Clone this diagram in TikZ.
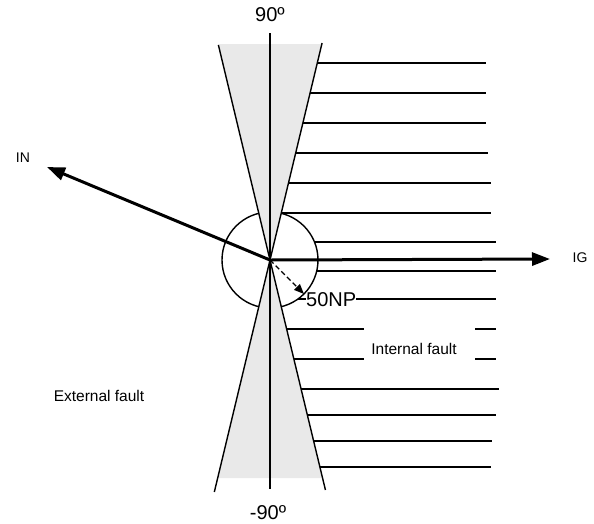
\documentclass[tikz,border=0pt]{standalone}
\usepackage{fontspec}
\setmainfont{Liberation Sans}
\usetikzlibrary{arrows.meta}
\definecolor{conegray}{HTML}{E9E9E9}
\begin{document}
\begin{tikzpicture}[x=1pt,y=-1pt,
  thinline/.style={line width=1.4pt},
  bigarrow/.style={line width=3pt,-{Triangle[length=18pt,width=13pt]}},
  dasharrow/.style={line width=1.4pt,dash pattern=on 5pt off 3pt,-{Triangle[length=10pt,width=8pt]}},
  lbl/.style={inner sep=0pt,font=\fontsize{14}{16}\selectfont},
  anglbl/.style={inner sep=0pt,font=\fontsize{20}{22}\selectfont}]
\useasboundingbox (0,0) rectangle (594,523);
\coordinate (O) at (270,260);
% circle
\draw[thinline] (O) circle[radius=48pt];
% hatch lines upper (start on cone edge)
\foreach \yy/\xe in {63/486,93/486,123/486,153/488,183/491,213/491}
  \draw[thinline] ({270+0.24*(260-\yy)},\yy) -- (\xe,\yy);
% hatch lines crossing the circle
\foreach \yy in {242,271}
  \draw[thinline] ({270+sqrt(48*48-(\yy-260)*(\yy-260))},\yy) -- (496,\yy);
% hatch lines lower
\foreach \yy/\xe in {389/499,415/496,441/492,467/491}
  \draw[thinline] ({270+0.24*(\yy-260)},\yy) -- (\xe,\yy);
\foreach \yy in {329,359}{
  \draw[thinline] ({270+0.24*(\yy-260)},\yy) -- (364,\yy);
  \draw[thinline] (475,\yy) -- (496,\yy);
}
% 50NP line
\node[anglbl,anchor=west] (np) at (306,300) {50NP};
\coordinate (npstart) at (298,299);
\coordinate (npend) at (496,299);
\draw[thinline] (npstart) -- (np.west |- npstart);
\draw[thinline] (np.east |- npend) -- (npend);
% cones
\fill[conegray] (O) -- ({270-0.24*216},44) -- ({270+0.24*216},44) -- cycle;
\fill[conegray] (O) -- ({270-0.24*218},478) -- ({270+0.24*218},478) -- cycle;
\draw[thinline] ({270-0.24*215},45) -- (O) -- ({270+0.24*231},490);
\draw[thinline] ({270+0.24*217},43) -- (O) -- ({270-0.24*232},492);
% vertical axis
\coordinate (vtop) at (270,33);
\coordinate (vbot) at (270,489);
\draw[thinline] (vtop) -- (vbot);
% arrows
\coordinate (ig) at (550,259);
\coordinate (in) at (47,167);
\coordinate (dtip) at (304,294);
\draw[bigarrow] (O) -- (ig);
\draw[bigarrow] (O) -- (in);
\draw[dasharrow] (O) -- (dtip);
% labels
\node[lbl] (iglbl) at (580,258) {IG};
\node[lbl] (inlbl) at (23,158) {IN};
\node[anglbl] (top) at (270,15) {90º};
\node[anglbl] (bot) at (268,513) {-90º};
\node[lbl,font=\fontsize{15.5}{17}\selectfont] (intf) at (414,349) {Internal fault};
\node[lbl,font=\fontsize{15.5}{17}\selectfont] (extf) at (99,396) {External fault};
\end{tikzpicture}
\end{document}
